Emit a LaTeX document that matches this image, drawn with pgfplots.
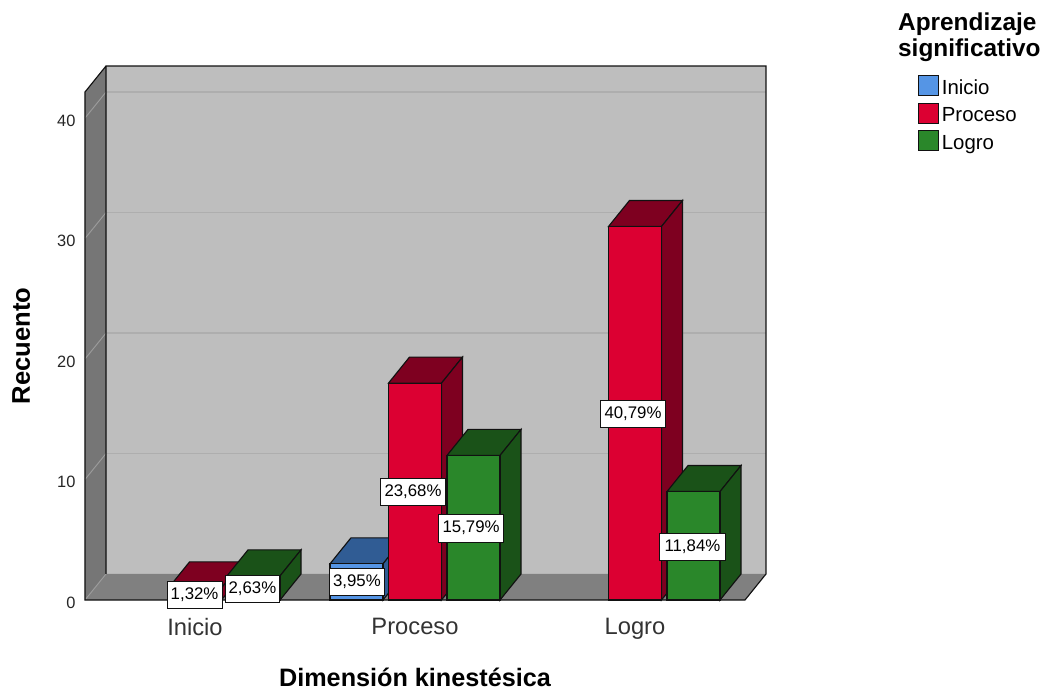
\documentclass[border=0pt]{standalone}
\usepackage{pgfplots}
\pgfplotsset{compat=1.18}
\usepackage{fontspec}
\setmainfont{Liberation Sans}
\definecolor{wall}{HTML}{BEBEBE}
\definecolor{sidewall}{HTML}{767676}
\definecolor{floorc}{HTML}{808080}
\definecolor{gridb}{HTML}{AEAEAE}
\definecolor{gridl}{HTML}{9C9C9C}
\definecolor{bluef}{HTML}{5595E5}
\definecolor{bluet}{HTML}{305C94}
\definecolor{redf}{HTML}{DC0032}
\definecolor{redt}{HTML}{7E0020}
\definecolor{greenf}{HTML}{2A872A}
\definecolor{greent}{HTML}{1A5218}
\definecolor{edge}{HTML}{111111}
\pgfplotsset{
  face/.style={forget plot,draw=edge,line width=0.85pt,line join=miter,fill=#1},
  front/.style={forget plot,ybar,bar width=0.241,draw=edge,line width=0.85pt,fill=#1},
}
\tikzset{
  lab/.style={draw=edge,line width=0.5pt,fill=white,inner sep=0pt,minimum height=20.5pt,text height=9pt,text depth=2pt,font=\fontsize{12.6}{12.6}\selectfont,align=center},
}
\begin{document}
\begin{tikzpicture}
\useasboundingbox (-63.75pt,-67.5pt) rectangle (726pt,450pt);
\begin{axis}[
  scale only axis,width=510.75pt,height=400.5pt,
  xmin=-0.5,xmax=2.5955,ymin=0,ymax=44.32,
  clip=false,
  axis line style={draw=none},
  major tick length=0pt,
  tick pos=left,
  xtick={0,1,2},xticklabels={Inicio,Proceso,Logro},
  ytick={0,10,20,30,40},
  /pgf/number format/assume math mode=true,
  xticklabel style={font=\fontsize{17.8}{18}\selectfont,text=black!80,yshift=-10pt},
  yticklabel style={font=\fontsize{12.3}{12}\selectfont,text=black!85,yshift=-2pt,xshift=-3.6pt},
  every axis x label/.style={at={(axis cs:1,-6.42)},anchor=center,inner sep=0pt,outer sep=0pt},
  every axis y label/.style={at={(axis cs:-0.79,21.1)},rotate=90,anchor=center},
  xlabel={\fontsize{18.9}{19}\selectfont\bfseries Dimensión kinestésica},
  ylabel={\fontsize{19.2}{19}\selectfont\bfseries Recuento},
  legend style={at={(1.2232,0.9832)},anchor=north west,draw=none,fill=none,
    inner sep=0pt,outer sep=0pt,font=\fontsize{15.3}{15}\selectfont,
    row sep=2.5pt,/tikz/every even column/.style={column sep=3.5pt}},
  legend cell align=left,
  legend image code/.code={\draw[#1,line width=0.9pt] (0pt,-5.5pt) rectangle (15pt,9.5pt);},
]
% walls and floor
\addplot[forget plot,draw=none,fill=wall] coordinates {(-0.4045,2.16)(2.5955,2.16)(2.5955,44.32)(-0.4045,44.32)} --cycle;
\addplot[forget plot,draw=none,fill=sidewall] coordinates {(-0.5,0)(-0.4045,2.16)(-0.4045,44.32)(-0.5,42.16)} --cycle;
\addplot[forget plot,draw=none,fill=floorc] coordinates {(-0.5,0)(2.5,0)(2.5955,2.16)(-0.4045,2.16)} --cycle;
% grid
\addplot[forget plot,gridb,line width=0.9pt] coordinates {(-0.4045,12.16)(2.5955,12.16)};
\addplot[forget plot,gridb,line width=0.9pt] coordinates {(-0.4045,22.16)(2.5955,22.16)};
\addplot[forget plot,gridb,line width=0.9pt] coordinates {(-0.4045,32.16)(2.5955,32.16)};
\addplot[forget plot,gridb,line width=0.9pt] coordinates {(-0.4045,42.16)(2.5955,42.16)};
\addplot[forget plot,gridl,line width=0.7pt] coordinates {(-0.5,10)(-0.4045,12.16)};
\addplot[forget plot,gridl,line width=0.7pt] coordinates {(-0.5,20)(-0.4045,22.16)};
\addplot[forget plot,gridl,line width=0.7pt] coordinates {(-0.5,30)(-0.4045,32.16)};
\addplot[forget plot,gridl,line width=0.7pt] coordinates {(-0.5,40)(-0.4045,42.16)};
\addplot[forget plot,gridl,line width=0.7pt] coordinates {(-0.5,0)(-0.4045,2.16)};
% frame
\addplot[forget plot,draw=edge,line width=0.85pt] coordinates {(-0.4045,2.16)(-0.4045,44.32)(2.5955,44.32)(2.5955,2.16)(2.5,0)(-0.5,0)(-0.5,42.16)(-0.4045,44.32)};
% Inicio
\addplot[face=redt] coordinates {(-0.1205,1)(0.1205,1)(0.216,3.16)(-0.025,3.16)} --cycle;
\addplot[face=redt] coordinates {(0.1205,0)(0.216,2.16)(0.216,3.16)(0.1205,1)} --cycle;
\addplot[front=redf] coordinates {(0,1)};
\addplot[face=greent] coordinates {(0.1455,2)(0.3865,2)(0.482,4.16)(0.241,4.16)} --cycle;
\addplot[face=greent] coordinates {(0.3865,0)(0.482,2.16)(0.482,4.16)(0.3865,2)} --cycle;
\addplot[front=greenf] coordinates {(0.266,2)};
% Proceso
\addplot[face=bluet] coordinates {(0.6135,3)(0.8545,3)(0.95,5.16)(0.709,5.16)} --cycle;
\addplot[face=bluet] coordinates {(0.8545,0)(0.95,2.16)(0.95,5.16)(0.8545,3)} --cycle;
\addplot[front=bluef] coordinates {(0.734,3)};
\addplot[face=redt] coordinates {(0.8795,18)(1.1205,18)(1.216,20.16)(0.975,20.16)} --cycle;
\addplot[face=redt] coordinates {(1.1205,0)(1.216,2.16)(1.216,20.16)(1.1205,18)} --cycle;
\addplot[front=redf] coordinates {(1,18)};
\addplot[face=greent] coordinates {(1.1455,12)(1.3865,12)(1.482,14.16)(1.241,14.16)} --cycle;
\addplot[face=greent] coordinates {(1.3865,0)(1.482,2.16)(1.482,14.16)(1.3865,12)} --cycle;
\addplot[front=greenf] coordinates {(1.266,12)};
% Logro
\addplot[face=redt] coordinates {(1.8795,31)(2.1205,31)(2.216,33.16)(1.975,33.16)} --cycle;
\addplot[face=redt] coordinates {(2.1205,0)(2.216,2.16)(2.216,33.16)(2.1205,31)} --cycle;
\addplot[front=redf] coordinates {(2,31)};
\addplot[face=greent] coordinates {(2.1455,9)(2.3865,9)(2.482,11.16)(2.241,11.16)} --cycle;
\addplot[face=greent] coordinates {(2.3865,0)(2.482,2.16)(2.482,11.16)(2.3865,9)} --cycle;
\addplot[front=greenf] coordinates {(2.266,9)};
% labels
\node[lab,minimum width=41pt] at (axis cs:-0.002,0.45) {1,32\%};
\node[lab,minimum width=41pt] at (axis cs:0.261,0.95) {2,63\%};
\node[lab,minimum width=41pt] at (axis cs:0.736,1.5) {3,95\%};
\node[lab,minimum width=49pt] at (axis cs:0.991,9) {23,68\%};
\node[lab,minimum width=49pt] at (axis cs:1.255,5.95) {15,79\%};
\node[lab,minimum width=49pt] at (axis cs:1.991,15.45) {40,79\%};
\node[lab,minimum width=49pt] at (axis cs:2.261,4.4) {11,84\%};
% legend
\node[anchor=west,align=left,inner sep=0pt,font=\fontsize{18.3}{19.2}\selectfont\bfseries] at (axis cs:3.195,46.7) {Aprendizaje\\significativo};
\addlegendimage{draw=edge,fill=bluef}\addlegendentry{Inicio}
\addlegendimage{draw=edge,fill=redf}\addlegendentry{Proceso}
\addlegendimage{draw=edge,fill=greenf}\addlegendentry{Logro}
\end{axis}
\end{tikzpicture}
\end{document}
